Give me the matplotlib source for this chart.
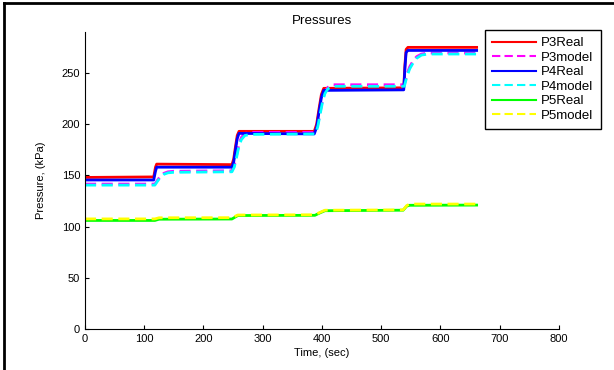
import matplotlib.pyplot as plt
from matplotlib.lines import Line2D

plt.rcParams['font.family'] = ['Liberation Sans', 'DejaVu Sans']
plt.rcParams['font.size'] = 8

t_real = [0, 116, 119, 121, 248, 251, 254, 257, 260, 387, 391, 395, 399, 403, 538, 540, 542, 545, 661]
p3_real = [148, 148.5, 158, 161, 160.5, 166, 178, 189, 193, 193, 200, 215, 229, 235, 235.5, 258, 273, 275, 275]
p4_real = [145.5, 145.5, 154, 158, 158, 163, 175, 186, 191, 190.5, 197, 212, 226, 233, 233.5, 255, 270, 272, 272]

# model pressures (kPa)
t_model = [0, 118, 122, 127, 133, 140, 150, 248, 252, 256, 260, 264, 270, 280, 389, 393, 397, 401, 405,
           410, 418, 539, 543, 548, 554, 560, 568, 580, 661]
p3_model = [141.5, 141.5, 145, 149, 152, 153.5, 154, 154.5, 160, 170, 181, 187, 191, 192, 192, 200, 212,
            224, 232, 236, 238.5, 238.5, 248, 256, 262, 266, 268.5, 269.5, 269.5]
p4_model = [140.5, 140.5, 144, 148, 151, 152.5, 153, 153.5, 158, 168, 179, 185, 189, 190, 190.5, 198, 210,
            222, 230, 234.5, 237, 237, 246, 254, 260, 264.5, 267.5, 268.5, 268.5]

t_p5 = [0, 118, 125, 248, 258, 388, 397, 405, 537, 543, 548, 661]
p5_real = [106, 106, 107.2, 107.4, 110.8, 111, 113.5, 115.5, 116, 120, 120.8, 121]
p5_model = [107.5, 107.5, 108.6, 108.7, 111.3, 111.5, 114, 116, 116.3, 120.5, 122, 122]

fig = plt.figure(figsize=(6.14, 3.70), dpi=100)
ax = fig.add_axes([0.1384, 0.1108, 0.772, 0.8027])

ax.plot(t_real, p3_real, color='red', lw=2, label='P3Real')
ax.plot(t_model, p3_model, color='magenta', lw=2, ls='--', dashes=(4, 2), label='P3model')
ax.plot(t_real, p4_real, color='blue', lw=2, label='P4Real')
ax.plot(t_model, p4_model, color='cyan', lw=2, ls='--', dashes=(4, 2), label='P4model')
ax.plot(t_p5, p5_real, color='lime', lw=2, label='P5Real')
ax.plot(t_p5, p5_model, color='yellow', lw=2, ls='--', dashes=(4, 2), label='P5model')

ax.set_xlim(0, 800)
ax.set_ylim(0, 290)
ax.set_xticks(range(0, 801, 100))
ax.set_yticks(range(0, 251, 50))
ax.spines['top'].set_visible(False)
ax.spines['right'].set_visible(False)
ax.tick_params(direction='in', length=3, width=0.8)
ax.set_xlabel('Time, (sec)', labelpad=3)
ax.set_ylabel('Pressure, (kPa)', labelpad=11)
ax.set_title('Pressures', pad=6)

leg = ax.legend(loc='upper left', bbox_to_anchor=(485 / 614, 1 - 30 / 370), bbox_transform=fig.transFigure,
                fancybox=False, framealpha=1, edgecolor='black', handlelength=3.3, handletextpad=0.4,
                borderpad=0.55, labelspacing=0.17, borderaxespad=0, prop={'size': 9.5})
leg.get_frame().set_linewidth(1)
for h in leg.get_lines():
    h.set_linewidth(1.5)

# border around the figure
fig.add_artist(Line2D([4 / 614, 4 / 614], [0, 1 - 3 / 370], color='black', lw=2, transform=fig.transFigure))
fig.add_artist(Line2D([4 / 614, 1], [1 - 3 / 370, 1 - 3 / 370], color='black', lw=2, transform=fig.transFigure))

plt.savefig('out.png', dpi=100)
